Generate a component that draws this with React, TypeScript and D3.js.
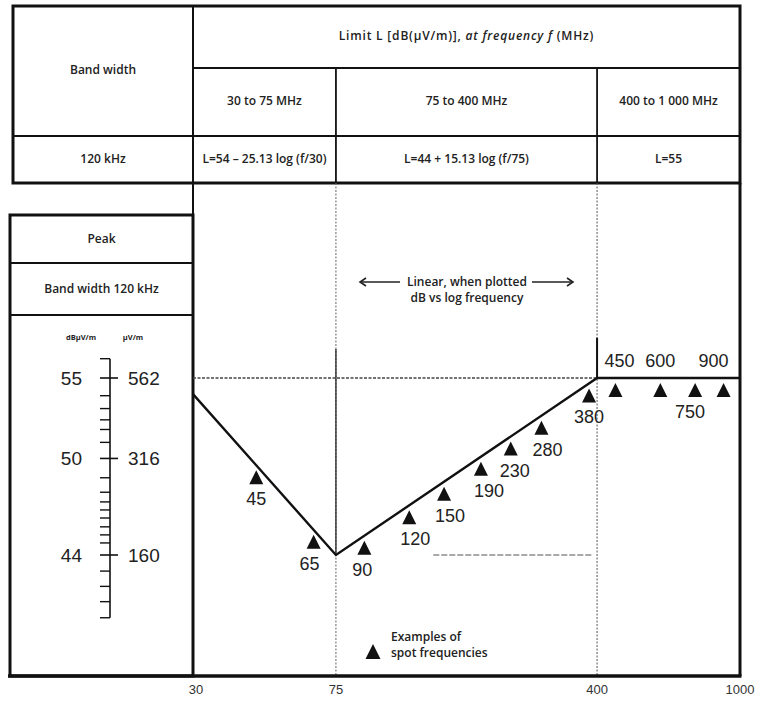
import React from 'react';
import * as d3 from 'd3';

// limit line break points (MHz, dB(uV/m))
const limitFreqs = [30, 75, 400, 1000];
const limitLevels = [54, 44, 55, 55];

// spot frequencies marked with triangles
const spotFreqs = [45, 65, 90, 120, 150, 190, 230, 280, 380, 450, 600, 750, 900];

// header table
const bandRanges = ['30 to 75 MHz', '75 to 400 MHz', '400 to 1 000 MHz'];
const bandFormulas = ['L=54 \u2013 25.13 log (f/30)', 'L=44 + 15.13 log (f/75)', 'L=55'];
const freqTicks = [30, 75, 400, 1000];

// left hand scale
const dbMajor = [55, 50, 44];
const uvMajor = ['562', '316', '160'];
const dbMinor = [56.2, 53.9, 53.1, 52.4, 51.8, 51.0, 48.8, 47.9, 47.3, 46.8, 46.3, 45.75, 45.25, 44.75, 43.0, 42.05, 41.1, 40.1];

// where the label sits next to its triangle
const labelPlace: Record<number, { dx: number; above?: boolean }> = {
  45: { dx: 0 }, 65: { dx: -4 }, 90: { dx: -2 }, 120: { dx: 6 }, 150: { dx: 6 },
  190: { dx: 8 }, 230: { dx: 4 }, 280: { dx: 6 }, 380: { dx: 0 },
  450: { dx: 4, above: true }, 600: { dx: 0, above: true }, 750: { dx: -5 }, 900: { dx: -10, above: true },
};

const W = 765;
const H = 701;
const left = 193;
const right = 740;
const tableTop = 6;
const tableBottom = 183;
const bottom = 676;

const headFont = "'Open Sans', sans-serif";
const numFont = "'Liberation Sans', Arial, sans-serif";

export default function App() {
  const x = d3.scaleLog().domain([30, 1000]).range([left, right]);
  const y = d3.scaleLinear().domain([44, 55]).range([555, 378]);
  // limit as function of log frequency (piecewise linear)
  const limitAt = d3.scaleLinear().domain(limitFreqs.map(f => Math.log10(f))).range(limitLevels);

  const linePath = d3.line<number>()
    .x(f => x(f))
    .y((f, i) => y(limitLevels[i]))(limitFreqs) || '';

  const tri = (cx: number, top: number, s = 14) =>
    `M${cx},${top}L${cx + s / 2},${top + s}L${cx - s / 2},${top + s}Z`;

  const axisX = 110;
  const headerTxt = { fontFamily: headFont, fontSize: 12, fill: '#222', textAnchor: 'middle' as const, fontWeight: 600 };

  return (
    <div style={{ position: 'absolute', left: 0, top: 0 }}>
      <svg width={W} height={H} style={{ display: 'block', background: '#fff' }}>
        {/* header table */}
        <rect x={13} y={tableTop} width={right - 13} height={tableBottom - tableTop} fill="none" stroke="#111" strokeWidth={3} />
        <line x1={left} x2={left} y1={tableTop} y2={bottom} stroke="#111" strokeWidth={2} />
        <line x1={left} x2={right} y1={68} y2={68} stroke="#111" strokeWidth={2} />
        <line x1={13} x2={right} y1={136} y2={136} stroke="#111" strokeWidth={2} />
        {[75, 400].map(f => (
          <line key={f} x1={x(f)} x2={x(f)} y1={68} y2={tableBottom} stroke="#111" strokeWidth={1.8} />
        ))}
        <text x={(13 + left) / 2} y={74} {...headerTxt}>Band width</text>
        <text x={(13 + left) / 2} y={163} {...headerTxt}>120 kHz</text>
        <text x={(left + right) / 2} y={40} {...headerTxt} letterSpacing={0.8}>
          Limit L [dB(µV/m)], <tspan fontStyle="italic">at frequency f</tspan> (MHz)
        </text>
        {bandRanges.map((t, i) => (
          <text key={t} x={(x(freqTicks[i]) + x(freqTicks[i + 1])) / 2} y={105} {...headerTxt}>{t}</text>
        ))}
        {bandFormulas.map((t, i) => (
          <text key={t} x={(x(freqTicks[i]) + x(freqTicks[i + 1])) / 2} y={163} {...headerTxt}>{t}</text>
        ))}

        {/* left box */}
        <rect x={10} y={215} width={left - 10} height={bottom - 215} fill="none" stroke="#111" strokeWidth={3} />
        <line x1={10} x2={left} y1={263} y2={263} stroke="#111" strokeWidth={2} />
        <line x1={10} x2={left} y1={315} y2={315} stroke="#111" strokeWidth={2} />
        <text x={(10 + left) / 2} y={243} {...headerTxt}>Peak</text>
        <text x={(10 + left) / 2} y={293} {...headerTxt}>Band width 120 kHz</text>
        <text x={81} y={340} {...headerTxt} fontSize={7.5} fontWeight={700}>dBµV/m</text>
        <text x={133} y={340} {...headerTxt} fontSize={7.5} fontWeight={700}>µV/m</text>

        {/* dB / uV scale */}
        <line x1={axisX} x2={axisX} y1={y(d3.max(dbMinor)!)} y2={y(d3.min(dbMinor)!)} stroke="#111" strokeWidth={1.6} />
        {dbMinor.map(d => (
          <line key={d} x1={axisX - 10} x2={axisX} y1={y(d)} y2={y(d)} stroke="#111" strokeWidth={1.4} />
        ))}
        {dbMajor.map((d, i) => (
          <g key={d}>
            <line x1={axisX - 10} x2={axisX + 8} y1={y(d)} y2={y(d)} stroke="#111" strokeWidth={1.6} />
            <text x={axisX - 28} y={y(d)} dy="0.36em" textAnchor="end" fontFamily={numFont} fontSize={19} fill="#222">{d}</text>
            <text x={axisX + 18} y={y(d)} dy="0.36em" textAnchor="start" fontFamily={numFont} fontSize={19} fill="#222">{uvMajor[i]}</text>
          </g>
        ))}

        {/* vertical band separators in plot */}
        <line x1={x(75)} x2={x(75)} y1={tableBottom} y2={bottom} stroke="#666" strokeWidth={1} strokeDasharray="2,1.5" />
        <line x1={x(75)} x2={x(75)} y1={y(56.8)} y2={y(44)} stroke="#222" strokeWidth={1.3} />
        <line x1={x(400)} x2={x(400)} y1={tableBottom} y2={bottom} stroke="#555" strokeWidth={1} strokeDasharray="2,1.5" />
        <line x1={x(400)} x2={x(400)} y1={y(57.5)} y2={y(55)} stroke="#111" strokeWidth={2} />

        {/* reference dotted lines */}
        <line x1={x(30)} x2={x(400)} y1={y(55)} y2={y(55)} stroke="#444" strokeWidth={1.3} strokeDasharray="3,1.5" />
        <line x1={x(140)} x2={x(390)} y1={y(44)} y2={y(44)} stroke="#555" strokeWidth={1.2} strokeDasharray="6,2" />

        {/* limit line */}
        <path d={linePath} fill="none" stroke="#111" strokeWidth={2.4} strokeLinejoin="miter" />

        {/* spot frequencies */}
        {spotFreqs.map(f => {
          const cx = x(f);
          const ly = y(limitAt(Math.log10(f)));
          const top = ly + 5;
          const p = labelPlace[f];
          return (
            <g key={f}>
              <path d={tri(cx, top)} fill="#111" />
              <text x={cx + p.dx} y={p.above ? ly - 11 : top + 35} textAnchor="middle"
                fontFamily={numFont} fontSize={18} fill="#222">{f}</text>
            </g>
          );
        })}

        {/* linear note */}
        <g stroke="#222" strokeWidth={1.6} fill="none">
          <line x1={361} x2={400} y1={282} y2={282} />
          <path d="M366,278L360,282L366,286" />
          <line x1={532} x2={572} y1={282} y2={282} />
          <path d="M567,278L573,282L567,286" />
        </g>
        <text x={467} y={286} {...headerTxt}>Linear, when plotted</text>
        <text x={467} y={302} {...headerTxt}>dB vs log frequency</text>

        {/* legend */}
        <path d={tri(373, 644, 15)} fill="#111" />
        <text x={391} y={641} {...headerTxt} textAnchor="start">Examples of</text>
        <text x={391} y={657} {...headerTxt} textAnchor="start">spot frequencies</text>

        {/* frame */}
        <line x1={right} x2={right} y1={tableBottom} y2={bottom} stroke="#111" strokeWidth={3} />
        <line x1={8} x2={right + 1.5} y1={bottom} y2={bottom} stroke="#111" strokeWidth={3.5} />

        {/* frequency axis labels */}
        {freqTicks.map(f => (
          <text key={f} x={f === 30 ? x(f) + 3 : x(f)} y={694} textAnchor="middle"
            fontFamily={numFont} fontSize={13} fill="#333">{f}</text>
        ))}
      </svg>
    </div>
  );
}
